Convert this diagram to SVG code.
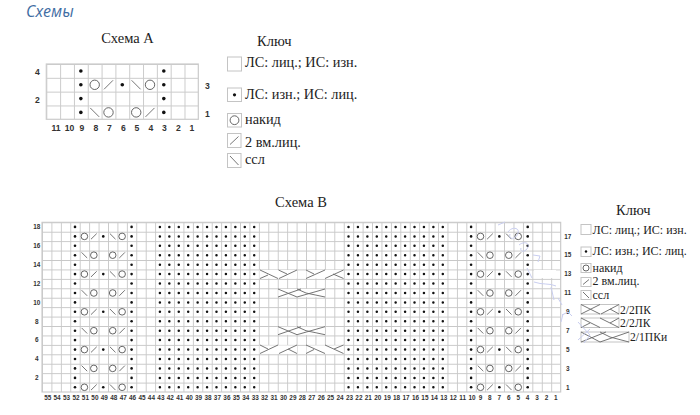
<svg xmlns="http://www.w3.org/2000/svg" width="700" height="415" viewBox="0 0 700 415">
<style>
.t{font-family:"Liberation Serif","Times New Roman",serif;fill:#222}
.ka{font-size:14.3px}.kb{font-size:12px}.kc{font-size:11.6px}
.h{font-size:14.5px}
.n{font-family:"Liberation Sans",Arial,sans-serif;font-weight:700;fill:#333;text-anchor:middle}
.na{font-size:8.6px}.nb{font-size:6.4px}
.ln{fill:none;stroke:#666;stroke-width:.9}
.o{fill:none;stroke:#555;stroke-width:.9}
.d{fill:#111}
.box{fill:#fff;stroke:#c4c4c4;stroke-width:1}
.sc{fill:none;stroke:#c9cef0;stroke-width:1}
</style>
<defs>
<pattern id="ga" patternUnits="userSpaceOnUse" x="46.3" y="64" width="13.82" height="13.82"><path d="M0 0H13.82M0 0V13.82" fill="none" stroke="#cbcbcb" stroke-width="2"/></pattern>
<pattern id="gb" patternUnits="userSpaceOnUse" x="42" y="222.3" width="9.43" height="9.43"><path d="M0 0H9.43M0 0V9.43" fill="none" stroke="#c8c8c8" stroke-width="1.8"/></pattern>
<g id="dots">
<circle class="d" cx="75" cy="0" r="1.3"/><circle class="d" cx="131.6" cy="0" r="1.3"/>
<path d="M159.9 0H254.3M348.5 0H442.9" fill="none" stroke="#111" stroke-width="2.5" stroke-linecap="round" stroke-dasharray="0 9.43"/>
<circle class="d" cx="471.1" cy="0" r="1.3"/><circle class="d" cx="527.7" cy="0" r="1.3"/>
</g>
<g id="mo1"><circle class="o" cx="0" cy="0" r="3.3"/><path class="ln" d="M6.6 2.8L12.3-2.8"/><circle class="d" cx="18.86" cy="0" r="1.3"/><path class="ln" d="M25.5-2.8L31.1 2.8"/><circle class="o" cx="37.72" cy="0" r="3.3"/></g>
<g id="mo2"><path class="ln" d="M-2.8-2.8L2.8 2.8"/><circle class="o" cx="9.43" cy="0" r="3.3"/><circle class="o" cx="28.29" cy="0" r="3.3"/><path class="ln" d="M34.9 2.8L40.5-2.8"/></g>
<g id="c21"><rect x="278.5" y="289" width="46" height="8.2" fill="#fff"/><path class="ln" d="M278 289L297 297M278 297L301 289M297 289L306 293M297 297L325 289M306 293L325 297"/></g>
</defs>

<text x="26" y="17" font-family="'Open Sans','Noto Sans',sans-serif" font-style="italic" font-size="16" fill="#3f6da3">Схемы</text>

<g id="chart-a">
<text class="t h" x="127.5" y="43" text-anchor="middle">Схема А</text>
<rect x="46.3" y="64" width="152" height="55.28" fill="url(#ga)" stroke="#cbcbcb" stroke-width="1.2"/>
<g class="d"><circle cx="80.85" cy="71" r="1.8"/><circle cx="163.8" cy="71" r="1.8"/><circle cx="80.85" cy="84.8" r="1.8"/><circle cx="122.3" cy="84.8" r="1.8"/><circle cx="163.8" cy="84.8" r="1.8"/><circle cx="80.85" cy="98.6" r="1.8"/><circle cx="163.8" cy="98.6" r="1.8"/><circle cx="80.85" cy="112.4" r="1.8"/><circle cx="163.8" cy="112.4" r="1.8"/></g>
<circle class="o" cx="94.7" cy="84.8" r="4.7"/><path class="ln" d="M104 89.3L113 80.3"/><path class="ln" d="M131.6 80.3L140.6 89.3"/><circle class="o" cx="150" cy="84.8" r="4.7"/>
<path class="ln" d="M90.2 107.9L99.2 116.9"/><circle class="o" cx="108.5" cy="112.4" r="4.7"/><circle class="o" cx="136.2" cy="112.4" r="4.7"/><path class="ln" d="M145.5 116.9L154.5 107.9"/>
<g class="n na">
<text x="37.5" y="75">4</text><text x="37.5" y="103">2</text><text x="207.5" y="89">3</text><text x="207.5" y="117">1</text>
<text x="56" y="131">11</text><text x="69.5" y="131">10</text><text x="82" y="131">9</text><text x="96" y="131">8</text><text x="109.5" y="131">7</text><text x="123.5" y="131">6</text><text x="137" y="131">5</text><text x="151" y="131">4</text><text x="164.5" y="131">3</text><text x="178.5" y="131">2</text><text x="192" y="131">1</text>
</g>
</g>

<g id="key-a">
<text class="t h" x="257" y="46">Ключ</text>
<rect class="box" x="227.5" y="57" width="14" height="14"/><text class="t ka" x="245" y="66.5">ЛС: лиц.; ИС: изн.</text>
<rect class="box" x="227.5" y="88" width="14" height="13.5"/><circle class="d" cx="234.5" cy="94.8" r="1.6"/><text class="t ka" x="245" y="99">ЛС: изн.; ИС: лиц.</text>
<rect class="box" x="227.5" y="113.5" width="14" height="13.5"/><circle class="o" cx="234.5" cy="120.2" r="4.4"/><text class="t ka" x="245" y="124">накид</text>
<rect class="box" x="227.5" y="133.5" width="13.5" height="14"/><path class="ln" d="M230 144.5L238.5 136.5"/><text class="t ka" x="245" y="147">2 вм.лиц.</text>
<rect class="box" x="227.5" y="153.5" width="13.5" height="14"/><path class="ln" d="M230 156L238.5 165"/><text class="t ka" x="245" y="164">ссл</text>
</g>

<g id="chart-b">
<text class="t h" x="301" y="207" text-anchor="middle">Схема В</text>
<rect x="42" y="222.3" width="518.7" height="169.7" fill="url(#gb)" stroke="#c8c8c8" stroke-width="1.1"/>
<use href="#dots" y="226.9"/><use href="#dots" y="236.4"/><use href="#dots" y="245.8"/><use href="#dots" y="255.2"/><use href="#dots" y="264.7"/><use href="#dots" y="274.1"/><use href="#dots" y="283.5"/><use href="#dots" y="293"/><use href="#dots" y="302.4"/><use href="#dots" y="311.8"/><use href="#dots" y="321.3"/><use href="#dots" y="330.7"/><use href="#dots" y="340.1"/><use href="#dots" y="349.6"/><use href="#dots" y="359"/><use href="#dots" y="368.4"/><use href="#dots" y="377.9"/><use href="#dots" y="387.3"/>
<use href="#mo1" x="84.4" y="236.4"/><use href="#mo2" x="84.4" y="255.2"/><use href="#mo1" x="84.4" y="274.1"/><use href="#mo2" x="84.4" y="293"/><use href="#mo1" x="84.4" y="311.8"/><use href="#mo2" x="84.4" y="330.7"/><use href="#mo1" x="84.4" y="349.6"/><use href="#mo2" x="84.4" y="368.4"/><use href="#mo1" x="84.4" y="387.3"/>
<use href="#mo1" x="480.5" y="236.4"/><use href="#mo2" x="480.5" y="255.2"/><use href="#mo1" x="480.5" y="274.1"/><use href="#mo2" x="480.5" y="293"/><use href="#mo1" x="480.5" y="311.8"/><use href="#mo2" x="480.5" y="330.7"/><use href="#mo1" x="480.5" y="349.6"/><use href="#mo2" x="480.5" y="368.4"/><use href="#mo1" x="480.5" y="387.3"/>
<rect x="259.5" y="270" width="37.5" height="8.5" fill="#fff"/><rect x="306.5" y="270" width="37" height="8.5" fill="#fff"/>
<path class="ln" d="M260 270L278 278.5M260 278.5L268 275M278.5 270L287 274M297 270L279 278.5M306 278.5L325 270M306 270L314 274M343.5 270L325 278.5M333 274L343.5 278.5"/>
<use href="#c21"/><use href="#c21" y="37.7"/>
<rect x="259.5" y="345.4" width="37.5" height="8.5" fill="#fff"/><rect x="306.5" y="345.4" width="37" height="8.5" fill="#fff"/>
<path class="ln" d="M260 353.5L278 345M260 345L268 349M279 353.5L297 345M288 349L297 353.5M306 345L325 353.5M306 353.5L314 349.5M325 345L343.5 353.5M343.5 345L334 349"/>
<g class="n nb">
<text x="36.7" y="229">18</text><text x="36.7" y="248">16</text><text x="36.7" y="267">14</text><text x="36.7" y="285.7">12</text><text x="36.7" y="304.6">10</text><text x="36.7" y="323.5">8</text><text x="36.7" y="342.3">6</text><text x="36.7" y="361.2">4</text><text x="36.7" y="380">2</text>
<text x="567.7" y="238.6">17</text><text x="567.7" y="257.4">15</text><text x="567.7" y="276.3">13</text><text x="567.7" y="295.2">11</text><text x="567.7" y="314">9</text><text x="567.7" y="332.9">7</text><text x="567.7" y="351.8">5</text><text x="567.7" y="370.6">3</text><text x="567.7" y="389.5">1</text>
<g transform="translate(1 0)">
<text x="46.7" y="400">55</text><text x="56.1" y="400">54</text><text x="65.6" y="400">53</text><text x="75" y="400">52</text><text x="84.4" y="400">51</text><text x="93.9" y="400">50</text><text x="103.3" y="400">49</text><text x="112.7" y="400">48</text><text x="122.2" y="400">47</text><text x="131.6" y="400">46</text><text x="141" y="400">45</text><text x="150.4" y="400">44</text><text x="159.9" y="400">43</text><text x="169.3" y="400">42</text><text x="178.7" y="400">41</text><text x="188.2" y="400">40</text><text x="197.6" y="400">39</text><text x="207" y="400">38</text><text x="216.4" y="400">37</text><text x="225.9" y="400">36</text><text x="235.3" y="400">35</text><text x="244.7" y="400">34</text><text x="254.2" y="400">33</text><text x="263.6" y="400">32</text><text x="273" y="400">31</text><text x="282.5" y="400">30</text><text x="291.9" y="400">29</text><text x="301.3" y="400">28</text><text x="310.7" y="400">27</text><text x="320.2" y="400">26</text><text x="329.6" y="400">25</text><text x="339" y="400">24</text><text x="348.5" y="400">23</text><text x="357.9" y="400">22</text><text x="367.3" y="400">21</text><text x="376.8" y="400">20</text><text x="386.2" y="400">19</text><text x="395.6" y="400">18</text><text x="405" y="400">17</text><text x="414.5" y="400">16</text><text x="423.9" y="400">15</text><text x="433.3" y="400">14</text><text x="442.8" y="400">13</text><text x="452.2" y="400">12</text><text x="461.6" y="400">11</text><text x="471.1" y="400">10</text>
</g>
<text x="480.5" y="400">9</text><text x="489.9" y="400">8</text><text x="499.3" y="400">7</text><text x="508.8" y="400">6</text><text x="518.2" y="400">5</text><text x="527.6" y="400">4</text><text x="537.1" y="400">3</text><text x="546.5" y="400">2</text><text x="555.9" y="400">1</text>
</g>
<rect x="534" y="270" width="22" height="8" fill="#fff"/>
<path class="sc" d="M498 225L505 222M508 232C512 226 520 228 518 233C516 240 508 240 510 234M519 245C525 240 532 244 526 250C522 253 520 250 521 248M533 255L540 256L538 262M527 268L532 278M534 282C542 285 550 283 556 286M551 287L554 300M558 298L562 305M562 315L568 312L572 316M561 322L563 314"/>
</g>

<g id="key-b">
<text class="t h" x="616" y="215">Ключ</text>
<rect class="box" x="581" y="224.5" width="10" height="10"/><text class="t kb" x="592.5" y="233.5">ЛС: лиц.; ИС: изн.</text>
<rect class="box" x="581" y="247" width="10" height="9.5"/><circle class="d" cx="586" cy="251.5" r="1.2"/><text class="t kb" x="592.5" y="254.5">ЛС: изн.; ИС: лиц.</text>
<rect class="box" x="581" y="263.5" width="10" height="9"/><circle class="o" cx="586" cy="268" r="3"/><text class="t kb" x="592.5" y="271.5">накид</text>
<rect class="box" x="581" y="277.5" width="10" height="9"/><path class="ln" d="M583 284.5L589 279.5"/><text class="t kb" x="592.5" y="285">2 вм.лиц.</text>
<rect class="box" x="581" y="290.5" width="10" height="9"/><path class="ln" d="M583 292L589 298"/><text class="t kb" x="592.5" y="298.5">ссл</text>
<rect class="box" x="581" y="304.5" width="38" height="9.5"/><path class="ln" d="M581 304.5L600 314M581 314L600 304.5M601 314L619 304.5M610 309L619 314"/><text class="t kc" x="620" y="313.5">2/2ПК</text>
<rect class="box" x="581" y="318" width="38" height="9.5"/><path class="ln" d="M581 318L600 327.5M581 327.5L590 323M600 318L619 327.5M610 323L619 318"/><text class="t kc" x="620" y="327">2/2ЛК</text>
<rect class="box" x="581" y="332" width="48" height="10"/><path class="ln" d="M581 332L600 342M581 342L606 332M600 332L610 337M600 342L629 332M610 337L629 342"/><text class="t kc" x="630" y="341">2/1ПКи</text>
<path class="sc" d="M578 322L590 335L584 343M590 329L578 340"/>
</g>
</svg>
